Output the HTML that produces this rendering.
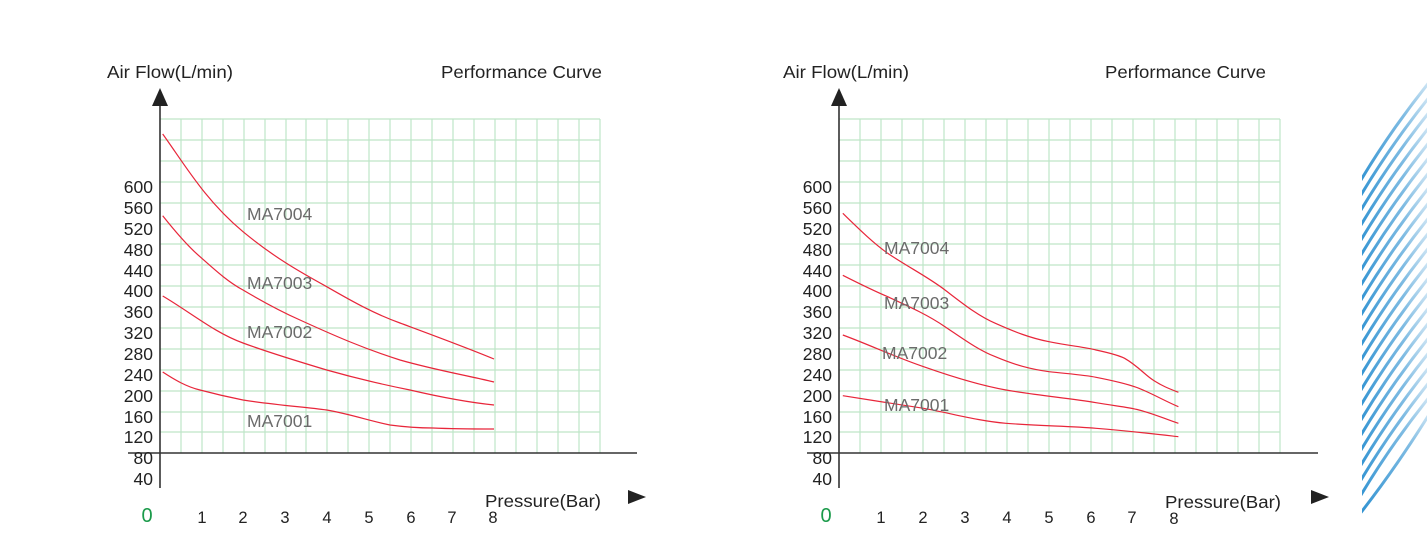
<!DOCTYPE html>
<html><head><meta charset="utf-8"><style>
html,body{margin:0;padding:0;background:#fff;}
svg{display:block;font-family:"Liberation Sans",Arial,sans-serif;}
</style></head><body>
<svg width="1427" height="550" viewBox="0 0 1427 550" xmlns="http://www.w3.org/2000/svg">
<defs>
<linearGradient id="fade" x1="0" y1="0" x2="0" y2="1">
<stop offset="0" stop-color="#2a8fd0" stop-opacity="0.15"/>
<stop offset="0.35" stop-color="#2a8fd0" stop-opacity="0.6"/>
<stop offset="1" stop-color="#2a8fd0" stop-opacity="1"/>
</linearGradient>
<clipPath id="stripeClip"><path d="M1362,550 L1362,170 Q1395,110 1427,40 L1427,550 Z"/></clipPath>
</defs>
<g stroke="#bfe5c8" stroke-width="1.2" fill="none">
<path d="M181,119V453M202,119V453M223,119V453M244,119V453M265,119V453M286,119V453M306,119V453M327,119V453M348,119V453M369,119V453M390,119V453M411,119V453M432,119V453M453,119V453M474,119V453M495,119V453M516,119V453M537,119V453M558,119V453M579,119V453M600,119V453"/>
<path d="M160,119H600M160,140H600M160,161H600M160,182H600M160,203H600M160,224H600M160,244H600M160,265H600M160,286H600M160,307H600M160,328H600M160,349H600M160,370H600M160,391H600M160,412H600M160,432H600"/>
<path d="M860,119V453M881,119V453M902,119V453M923,119V453M944,119V453M965,119V453M986,119V453M1007,119V453M1028,119V453M1049,119V453M1070,119V453M1091,119V453M1112,119V453M1133,119V453M1154,119V453M1175,119V453M1196,119V453M1217,119V453M1238,119V453M1259,119V453M1280,119V453"/>
<path d="M839,119H1280M839,140H1280M839,161H1280M839,182H1280M839,203H1280M839,224H1280M839,244H1280M839,265H1280M839,286H1280M839,307H1280M839,328H1280M839,349H1280M839,370H1280M839,391H1280M839,412H1280M839,432H1280"/>
</g>
<g stroke="#333" stroke-width="1.6">
<path d="M160,100V488M128,453H637"/>
<path d="M839,100V488M807,453H1318"/>
</g>
<path d="M160,88L152,106H168Z" fill="#222"/>
<path d="M839,88L831,106H847Z" fill="#222"/>
<path d="M646,497L628,490V504Z" fill="#222"/>
<path d="M1329,497L1311,490V504Z" fill="#222"/>
<g stroke="#e8263a" stroke-width="1.2" fill="none">
<path d="M162.7,134 C185,165 205,200 243,231.7 C275,258 300,272 326.7,286.7 C355,303 375,314 400,323 C435,336 465,347 494,359"/>
<path d="M162.7,215.7 C178,235 190,248 200,256.7 C215,270 228,282 243,290 C265,303 282,312 300,320 C335,336 365,349 400,360 C435,370 465,375 494,382"/>
<path d="M162.7,296 C190,312 215,333 243,343 C270,353 300,362 326.7,370 C355,378 385,385 410,390 C440,397 465,402 494,405"/>
<path d="M162.7,372 C175,380 187,387 200,390 C215,394 228,397 243,400 C275,405 305,407 326.7,410 C350,414 370,421 390,425 C405,427 418,428 433,428 C455,429 475,429 494,429"/>
<path d="M842.8,213.3 C858,228 872,242 887.7,253.3 C908,267 928,277 945,290 C962,303 978,316 995.4,323.3 C1015,332 1030,338 1049,341.7 C1070,346 1085,347 1096,350 C1110,353 1118,355 1124.6,358.3 C1138,366 1145,375 1153,380 C1162,386 1170,389 1178.4,392.3"/>
<path d="M842.8,275.3 C858,283 872,290 887.7,296.7 C908,306 928,315 945,326.7 C962,338 978,350 995.4,356.7 C1015,365 1030,369 1049,371.7 C1070,374 1085,375 1096,377.3 C1115,381 1128,384 1139,388.3 C1155,395 1165,401 1178.4,406.7"/>
<path d="M842.8,335 C870,345 895,357 923.6,366.7 C950,376 978,385 1006,390 C1040,396 1070,398 1096,402.7 C1115,406 1128,407 1139,410 C1155,414 1165,419 1178.4,423.3"/>
<path d="M842.8,395.7 C870,400 895,404 923.6,408.3 C950,413 978,421 1006,423.3 C1040,426 1070,426 1096,428.3 C1130,431 1155,434 1178.4,436.7"/>
</g>
<g font-size="17.5" fill="#222">
<text x="107" y="78" textLength="126" lengthAdjust="spacingAndGlyphs">Air Flow(L/min)</text>
<text x="441" y="78" textLength="161" lengthAdjust="spacingAndGlyphs">Performance Curve</text>
<text x="783" y="78" textLength="126" lengthAdjust="spacingAndGlyphs">Air Flow(L/min)</text>
<text x="1105" y="78" textLength="161" lengthAdjust="spacingAndGlyphs">Performance Curve</text>
<text x="485" y="507" textLength="116" lengthAdjust="spacingAndGlyphs">Pressure(Bar)</text>
<text x="1165" y="508" textLength="116" lengthAdjust="spacingAndGlyphs">Pressure(Bar)</text>
</g>
<g font-size="17.5" fill="#222" text-anchor="end">
<text x="153" y="193">600</text><text x="153" y="214">560</text><text x="153" y="235">520</text><text x="153" y="256">480</text><text x="153" y="277">440</text><text x="153" y="297">400</text><text x="153" y="318">360</text><text x="153" y="339">320</text><text x="153" y="360">280</text><text x="153" y="381">240</text><text x="153" y="402">200</text><text x="153" y="423">160</text><text x="153" y="443">120</text><text x="153" y="464">80</text><text x="153" y="485">40</text>
<text x="832" y="193">600</text><text x="832" y="214">560</text><text x="832" y="235">520</text><text x="832" y="256">480</text><text x="832" y="277">440</text><text x="832" y="297">400</text><text x="832" y="318">360</text><text x="832" y="339">320</text><text x="832" y="360">280</text><text x="832" y="381">240</text><text x="832" y="402">200</text><text x="832" y="423">160</text><text x="832" y="443">120</text><text x="832" y="464">80</text><text x="832" y="485">40</text>
</g>
<g font-size="16.5" fill="#222" text-anchor="middle">
<text x="202" y="523">1</text><text x="243" y="523">2</text><text x="285" y="523">3</text><text x="327" y="523">4</text><text x="369" y="523">5</text><text x="411" y="523">6</text><text x="452" y="523">7</text><text x="493" y="523">8</text>
<text x="881" y="523">1</text><text x="923" y="523">2</text><text x="965" y="523">3</text><text x="1007" y="523">4</text><text x="1049" y="523">5</text><text x="1091" y="523">6</text><text x="1132" y="523">7</text><text x="1174" y="524">8</text>
</g>
<text x="147" y="522" font-size="20" fill="#1a9a4a" text-anchor="middle">0</text>
<text x="826" y="522" font-size="20" fill="#1a9a4a" text-anchor="middle">0</text>
<g font-size="17.5" fill="#6b6b6b">
<text x="247" y="220">MA7004</text><text x="247" y="289">MA7003</text><text x="247" y="338">MA7002</text><text x="247" y="427">MA7001</text>
<text x="884" y="254">MA7004</text><text x="884" y="309">MA7003</text><text x="882" y="359">MA7002</text><text x="884" y="411">MA7001</text>
</g>
<g clip-path="url(#stripeClip)" stroke="url(#fade)" stroke-width="3" fill="none">
<path d="M1355,190 Q1390,130 1435,75"/>
<path d="M1355,205 Q1390,145 1435,90"/>
<path d="M1355,220 Q1390,160 1435,105"/>
<path d="M1355,235 Q1390,175 1435,120"/>
<path d="M1355,250 Q1390,190 1435,135"/>
<path d="M1355,265 Q1390,205 1435,150"/>
<path d="M1355,280 Q1390,220 1435,165"/>
<path d="M1355,295 Q1390,235 1435,180"/>
<path d="M1355,310 Q1390,250 1435,195"/>
<path d="M1355,325 Q1390,265 1435,210"/>
<path d="M1355,340 Q1390,280 1435,225"/>
<path d="M1355,355 Q1390,295 1435,240"/>
<path d="M1355,370 Q1390,310 1435,255"/>
<path d="M1355,385 Q1390,325 1435,270"/>
<path d="M1355,400 Q1390,340 1435,285"/>
<path d="M1355,415 Q1390,355 1435,300"/>
<path d="M1355,430 Q1390,370 1435,315"/>
<path d="M1355,445 Q1390,385 1435,330"/>
<path d="M1355,460 Q1390,400 1435,345"/>
<path d="M1355,475 Q1390,415 1435,360"/>
<path d="M1355,490 Q1390,430 1435,375"/>
<path d="M1355,505 Q1390,445 1435,390"/>
<path d="M1355,520 Q1395,470 1435,405"/>
</g>
</svg>
</body></html>
